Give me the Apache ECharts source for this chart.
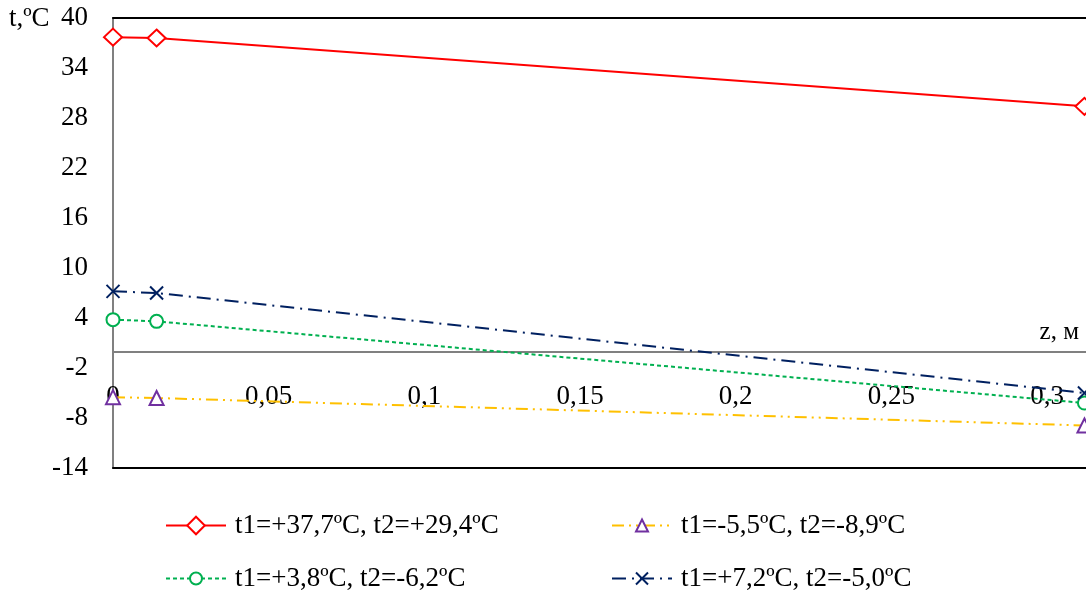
<!DOCTYPE html>
<html>
<head>
<meta charset="utf-8">
<script src="https://cdn.jsdelivr.net/npm/echarts@6/dist/echarts.min.js"></script>
<style>
html,body{margin:0;padding:0;background:#fff;}
#chart{width:1086px;height:592px;}
</style>
</head>
<body>
<div id="chart"></div>
<script>
// Data
var zValues = [0, 0.014, 0.312];
var seriesNames = [
  't1=+37,7ºC, t2=+29,4ºC',
  't1=-5,5ºC, t2=-8,9ºC',
  't1=+3,8ºC, t2=-6,2ºC',
  't1=+7,2ºC, t2=-5,0ºC'
];
var redValues = [37.7, 37.6, 29.4];
var yellowValues = [-5.5, -5.6, -8.9];
var greenValues = [3.8, 3.6, -6.2];
var navyValues = [7.2, 7.0, -5.0];
var yTicks = [-14, -8, -2, 4, 10, 16, 22, 28, 34, 40];

function pairs(xs, ys) { return xs.map(function (x, i) { return [x, ys[i]]; }); }

var FONT = 'Liberation Serif';
var FS = 27;
var XMAX = 0.3125;
var chart = echarts.init(document.getElementById('chart'));

var crossPath = 'path://M0,0L10,10M10,0L0,10';

function legendAt(name, left, centerY, h) {
  return {
    data: [name], left: left, top: Math.round(centerY - 16), itemWidth: 60, itemHeight: h, itemGap: 0,
    textStyle: { fontFamily: FONT, fontSize: FS, color: '#000', padding: [0, 0, 0, 4] },
    selectedMode: false
  };
}

function borderAxis(pos) {
  return {
    type: 'value', min: 0, max: XMAX, interval: 0.05, position: pos,
    axisLine: { onZero: false, lineStyle: { color: '#000', width: 2 } },
    axisTick: { show: false }, axisLabel: { show: false }, splitLine: { show: false }
  };
}

var option = {
  animation: false,
  backgroundColor: '#fff',
  grid: { left: 113, top: 18, bottom: 124, right: 0 },
  legend: [
    legendAt(seriesNames[0], 160, 523, 22),
    legendAt(seriesNames[1], 606, 523, 15),
    legendAt(seriesNames[2], 160, 576, 15),
    legendAt(seriesNames[3], 606, 576, 15)
  ],
  xAxis: [
    {
      type: 'value', min: 0, max: XMAX, interval: 0.05,
      axisLine: { onZero: true, lineStyle: { color: '#808080', width: 2 } },
      axisTick: { show: false },
      splitLine: { show: false },
      z: 3,
      axisLabel: {
        margin: -85, showMaxLabel: false,
        fontFamily: FONT, fontSize: FS, color: '#000',
        formatter: function (v) { return String(Math.round(v * 100) / 100).replace('.', ','); }
      }
    },
    borderAxis('top'),
    borderAxis('bottom')
  ],
  yAxis: {
    type: 'value', min: yTicks[0], max: yTicks[yTicks.length - 1], interval: 6,
    axisLine: { show: true, onZero: false, lineStyle: { color: '#808080', width: 2 } },
    axisTick: { show: false },
    splitLine: { show: false },
    axisLabel: { margin: 25, fontFamily: FONT, fontSize: FS, color: '#000' }
  },
  graphic: [
    { type: 'text', left: 9, top: 5, style: { text: 't,ºC', font: FS + 'px "Liberation Serif"', fill: '#000' } },
    { type: 'text', right: 7, top: 320, style: { text: 'z, м', font: '25px "Liberation Serif"', fill: '#000' } }
  ],
  series: [
    {
      name: seriesNames[0], type: 'line', xAxisIndex: 0, data: pairs(zValues, redValues),
      symbol: 'emptyDiamond', symbolSize: [18, 17], z: 5,
      lineStyle: { color: '#FF0000', width: 2 },
      itemStyle: { color: '#FF0000', borderColor: '#FF0000', borderWidth: 2 }
    },
    {
      name: seriesNames[1], type: 'line', xAxisIndex: 0, data: pairs(zValues, yellowValues),
      symbol: 'emptyTriangle', symbolSize: 14, z: 5,
      lineStyle: { color: '#FFC000', width: 2, type: [12, 5, 2, 5, 2, 5] },
      itemStyle: { color: '#7030A0', borderColor: '#7030A0', borderWidth: 2 }
    },
    {
      name: seriesNames[2], type: 'line', xAxisIndex: 0, data: pairs(zValues, greenValues),
      symbol: 'emptyCircle', symbolSize: 13, z: 5,
      lineStyle: { color: '#00B050', width: 2, type: [4, 3] },
      itemStyle: { color: '#00B050', borderColor: '#00B050', borderWidth: 2 }
    },
    {
      name: seriesNames[3], type: 'line', xAxisIndex: 0, data: pairs(zValues, navyValues),
      symbol: crossPath, symbolSize: 13, z: 5,
      lineStyle: { color: '#002060', width: 2, type: [14, 6, 2, 6] },
      itemStyle: { color: '#002060', borderColor: '#002060', borderWidth: 2 }
    }
  ]
};
chart.setOption(option);
</script>
</body>
</html>
